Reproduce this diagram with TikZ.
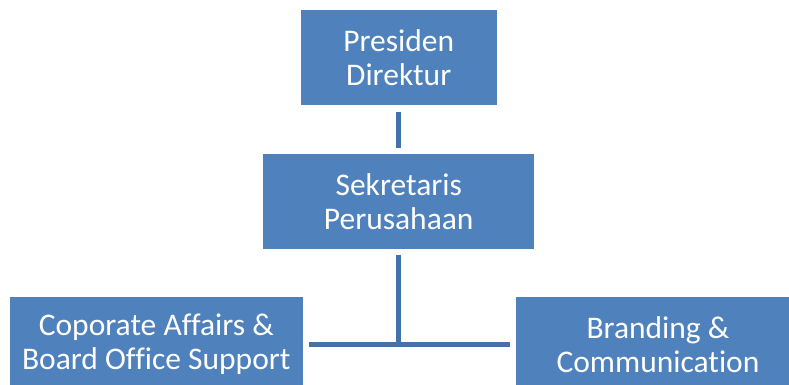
\documentclass[tikz,border=0pt]{standalone}
\usepackage{fontspec}
\setmainfont{Carlito}[Ligatures=NoCommon]
\definecolor{boxblue}{HTML}{4F81BD}
\definecolor{lineblue}{HTML}{4371A9}
\tikzset{
	orgbox/.style={fill=boxblue, text=white, align=center, inner sep=0pt,
		minimum height=95pt, font=\fontsize{31.5}{34}\selectfont},
	orgline/.style={draw=lineblue, line width=5pt}
}
\begin{document}
	\begin{tikzpicture}[x=1pt, y=-1pt, line join=miter, line cap=butt]
		\useasboundingbox (0,0) rectangle (789,385);
		\begin{scope}
			\clip (0,0) rectangle (789,385);
			\node[orgbox, minimum width=196pt] (pres) at (398.7,58) {Presiden\\Direktur};
			\node[orgbox, minimum width=271pt] (sek) at (398.7,201.3) {Sekretaris\\Perusahaan};
			\node[orgbox, minimum width=293pt] (corp) at (156.3,344.3) {Coporate Affairs \&\\Board Office Support};
			\node[orgbox, minimum width=285pt] (brand) at (658,344.3) {Branding \&\\Communication};
		\end{scope}
		\path (sek.south |- corp.east) coordinate (T);
		\draw[orgline, shorten <=6pt, shorten >=6pt] (pres) -- (sek);
		\draw[orgline, shorten <=5.5pt] (sek) -- (T);
		\draw[orgline, shorten <=5.5pt, shorten >=5pt] (corp) -- (brand);
	\end{tikzpicture}
\end{document}
